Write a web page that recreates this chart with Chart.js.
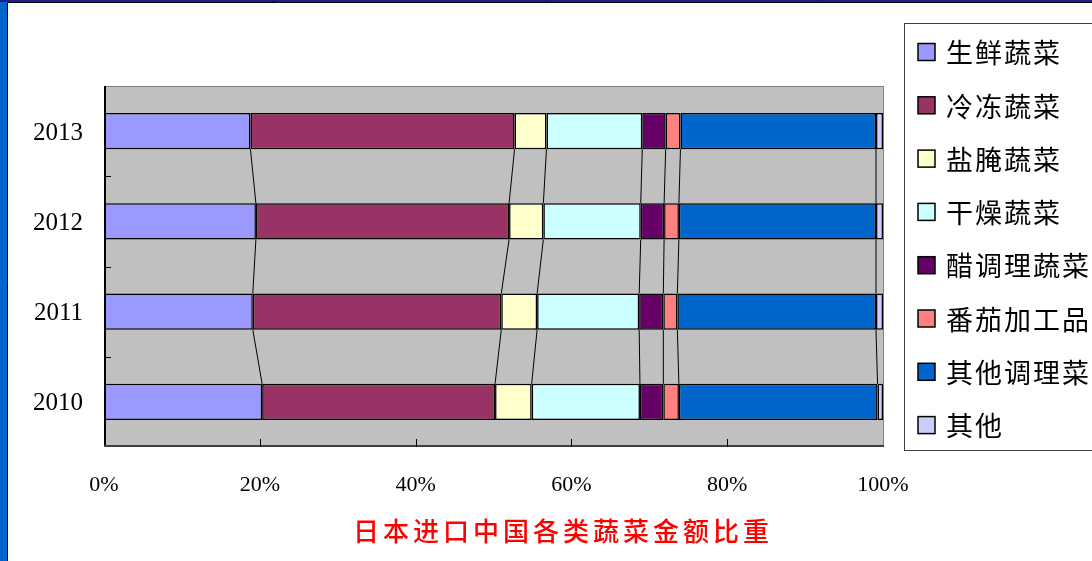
<!DOCTYPE html>
<html>
<head>
<meta charset="utf-8">
<script src="https://cdn.jsdelivr.net/npm/chart.js@4.4.1/dist/chart.umd.min.js"></script>
<style>
  html, body { margin: 0; padding: 0; background: #fff; }
  canvas { display: block; }
</style>
</head>
<body>
<canvas id="chart" width="1092" height="561"></canvas>
<script>
// --- DATA (shares in %) ---
const years = ['2013', '2012', '2011', '2010'];
const seriesNames = ['生鲜蔬菜', '冷冻蔬菜', '盐腌蔬菜', '干燥蔬菜', '醋调理蔬菜', '番茄加工品', '其他调理菜', '其他'];
const fresh         = [18.8, 19.5, 19.1, 20.3];
const frozen        = [33.9, 32.5, 31.9, 29.9];
const salted        = [4.1, 4.4, 4.6, 4.7];
const dried         = [12.3, 12.5, 13.1, 13.9];
const vinegar       = [3.0, 3.0, 3.1, 3.0];
const tomato        = [1.9, 1.9, 1.8, 2.0];
const otherPrepared = [25.1, 25.3, 25.5, 25.5];
const other         = [0.9, 0.9, 0.9, 0.7];
const xTicks = [0, 20, 40, 60, 80, 100];
const chartTitle = '日本进口中国各类蔬菜金额比重';

const seriesValues = [fresh, frozen, salted, dried, vinegar, tomato, otherPrepared, other];
const colors = ['#9999FF', '#993366', '#FFFFCC', '#CCFFFF', '#660066', '#FF8080', '#0066CC', '#CCCCFF'];

const SERIF = '"Liberation Serif", "DejaVu Serif", serif';
const CJK = '"Noto Sans CJK SC", "Noto Sans", sans-serif';

// --- PLUGIN: frame, plot background, series lines, ticks, legend, title ---
const decor = {
    id: 'decor',
    beforeDraw(chart) {
        const ctx = chart.ctx;
        const a = chart.chartArea;
        ctx.save();
        ctx.fillStyle = '#fff';
        ctx.fillRect(0, 0, chart.width, chart.height);
        // slide frame
        ctx.fillStyle = '#0066CC';
        ctx.fillRect(0, 0, 7, chart.height);
        ctx.fillStyle = '#1c1c8e';
        ctx.fillRect(0, 0, chart.width, 2);
        ctx.strokeStyle = '#000';
        ctx.lineWidth = 1;
        ctx.beginPath();
        ctx.moveTo(7.5, chart.height); ctx.lineTo(7.5, 2.5); ctx.lineTo(chart.width, 2.5);
        ctx.stroke();
        // plot area
        ctx.fillStyle = '#C0C0C0';
        ctx.fillRect(a.left, a.top, a.right - a.left, a.bottom - a.top);
        ctx.restore();
    },
    afterDatasetsDraw(chart) {
        const ctx = chart.ctx;
        const a = chart.chartArea;
        const xs = chart.scales.x;
        ctx.save();
        // series lines between neighbouring bars
        ctx.strokeStyle = '#000';
        ctx.lineWidth = 1;
        for (let i = 0; i < seriesValues.length - 1; i++) {
            const bars = chart.getDatasetMeta(i).data;
            for (let j = 0; j < bars.length - 1; j++) {
                const b1 = bars[j], b2 = bars[j + 1];
                ctx.beginPath();
                ctx.moveTo(b1.x, b1.y + b1.height / 2);
                ctx.lineTo(b2.x, b2.y - b2.height / 2);
                ctx.stroke();
            }
        }
        // plot border
        ctx.strokeStyle = '#808080';
        ctx.strokeRect(a.left + 0.5, a.top + 0.5, a.right - a.left, a.bottom - a.top - 1);
        ctx.lineWidth = 2;
        ctx.strokeStyle = '#000';
        ctx.beginPath();
        ctx.moveTo(a.left + 1, a.top); ctx.lineTo(a.left + 1, a.bottom);
        ctx.stroke();
        ctx.strokeStyle = '#404040';
        ctx.beginPath();
        ctx.moveTo(a.left, a.bottom - 1); ctx.lineTo(a.right + 1, a.bottom - 1);
        ctx.stroke();
        // inner tick marks
        ctx.lineWidth = 1;
        ctx.strokeStyle = '#000';
        const first = chart.getDatasetMeta(0).data;
        for (let j = 0; j < first.length - 1; j++) {
            const y = Math.round((first[j].y + first[j + 1].y) / 2) + 0.5;
            ctx.beginPath();
            ctx.moveTo(a.left, y); ctx.lineTo(a.left + 7, y);
            ctx.stroke();
        }
        xTicks.slice(1, -1).forEach(v => {
            const x = Math.round(xs.getPixelForValue(v)) + 0.5;
            ctx.beginPath();
            ctx.moveTo(x, a.bottom); ctx.lineTo(x, a.bottom - 8);
            ctx.stroke();
        });
        ctx.restore();
    },
    afterDraw(chart) {
        const ctx = chart.ctx;
        ctx.save();
        // legend
        ctx.strokeStyle = '#404040';
        ctx.lineWidth = 1;
        ctx.strokeRect(904.5, 23.5, 400, 427);
        ctx.font = '27px ' + CJK;
        ctx.textBaseline = 'middle';
        ctx.textAlign = 'left';
        ctx.letterSpacing = '2px';
        seriesNames.forEach((name, i) => {
            const cy = 52 + i * 53.3;
            ctx.fillStyle = colors[i];
            ctx.fillRect(918, cy - 8.5, 17, 17);
            ctx.strokeStyle = '#000';
            ctx.lineWidth = 1.5;
            ctx.strokeRect(918, cy - 8.5, 17, 17);
            ctx.fillStyle = '#000';
            ctx.fillText(name, 946, cy + 1);
        });
        // title
        ctx.fillStyle = '#FF0000';
        ctx.font = '500 26px ' + CJK;
        ctx.letterSpacing = '4px';
        ctx.textAlign = 'center';
        ctx.fillText(chartTitle, 563, 531);
        ctx.restore();
    }
};

const datasets = seriesValues.map((vals, i) => ({
    label: seriesNames[i],
    data: vals,
    backgroundColor: colors[i],
    borderColor: '#000',
    borderWidth: 1.5,
    borderSkipped: false,
    barPercentage: 0.4,
    categoryPercentage: 1.0
}));

new Chart(document.getElementById('chart').getContext('2d'), {
    type: 'bar',
    data: { labels: years, datasets: datasets },
    options: {
        indexAxis: 'y',
        responsive: false,
        animation: false,
        layout: { padding: { left: 0, top: 86, right: 209, bottom: 0 } },
        plugins: {
            legend: { display: false },
            title: { display: false },
            tooltip: { enabled: false }
        },
        scales: {
            x: {
                stacked: true,
                min: 0,
                max: 100,
                afterFit: s => { s.height = 114; },
                afterBuildTicks: s => { s.ticks = xTicks.map(v => ({ value: v })); },
                grid: { display: false, drawTicks: false },
                border: { display: false },
                ticks: {
                    padding: 25,
                    color: '#000',
                    font: { family: SERIF, size: 22 },
                    callback: v => v + '%'
                }
            },
            y: {
                stacked: true,
                afterFit: s => { s.width = 104; },
                grid: { display: false, drawTicks: false },
                border: { display: false },
                ticks: {
                    padding: 21,
                    labelOffset: 2,
                    color: '#000',
                    font: { family: SERIF, size: 25 }
                }
            }
        }
    },
    plugins: [decor]
});
</script>
</body>
</html>
